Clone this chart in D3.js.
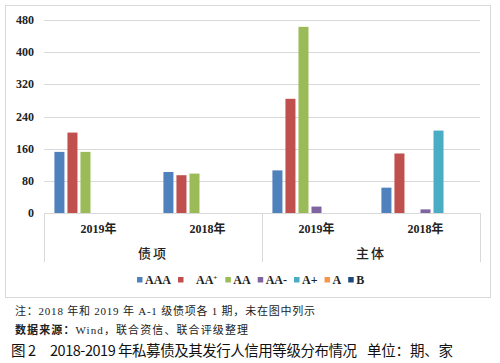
<!DOCTYPE html>
<html><head><meta charset="utf-8">
<script src="https://cdn.jsdelivr.net/npm/d3@7"></script>
<style>body{margin:0;background:#fff}svg{display:block}</style>
</head><body>
<svg id="c" width="500" height="363"></svg>
<script>
const groups = ["债项", "主体"];
const categories = ["2019年", "2018年", "2019年", "2018年"];
const categoryGroup = ["债项", "债项", "主体", "主体"];
const series = ["AAA", "AA+", "AA", "AA-", "A+", "A", "B"];
const colors = ["#4F81BD", "#C0504D", "#9BBB59", "#8064A2", "#4BACC6", "#F79646", "#1F497D"];
const valAAA = [152, 102, 106, 63];
const valAAp = [200, 94, 284, 148];
const valAA = [152, 98, 463, 0];
const valAAm = [0, 0, 16, 9];
const valAp = [0, 0, 0, 205];
const valA = [0, 0, 0, 0];
const valB = [0, 0, 0, 0];
const yTicks = [0, 80, 160, 240, 320, 400, 480];
const noteText = "注：2018 年和 2019 年 A-1 级债项各 1 期，未在图中列示";
const sourceLabel = "数据来源：";
const sourceText = "Wind，联合资信、联合评级整理";
const titleParts = ["图", "2", "2018-2019 年私募债及其发行人信用等级分布情况", "单位：期、家"];

const allVals = [valAAA, valAAp, valAA, valAAm, valAp, valA, valB];
const svg = d3.select("#c");
const serif = "'Liberation Serif','Times New Roman','Noto Sans CJK SC',serif";
const cjkSans = "'Noto Sans CJK SC','Noto Sans',sans-serif";

const L = 44, R = 480, T = 20, B = 213;
// outer frame
svg.append("rect").attr("x", 5.5).attr("y", 5.5).attr("width", 485).attr("height", 292)
  .attr("fill", "#fff").attr("stroke", "#d9d9d9");

const y = d3.scaleLinear().domain([0, 480]).range([B, T]);
const x0 = d3.scaleBand().domain(d3.range(categories.length)).range([L, R]);
const x1 = d3.scaleBand().domain(series).range([0, x0.bandwidth()]).paddingInner(3/13).paddingOuter(0.8);

// gridlines
svg.append("g").selectAll("line").data(yTicks.filter(d => d > 0)).join("line")
  .attr("x1", L).attr("x2", R).attr("y1", d => Math.round(y(d)) + 0.5).attr("y2", d => Math.round(y(d)) + 0.5)
  .attr("stroke", "#d9d9d9").attr("stroke-width", 1);

// y tick labels
svg.append("g").selectAll("text").data(yTicks).join("text")
  .attr("x", 34).attr("y", d => y(d) + 4).attr("text-anchor", "end")
  .attr("font-family", serif).attr("font-weight", "bold").attr("font-size", 12).attr("fill", "#222")
  .text(d => d);

// bars
const flat = [];
categories.forEach((c, i) => series.forEach((s, j) => flat.push({ i, s, j, v: allVals[j][i] })));
svg.append("g").selectAll("rect").data(flat.filter(d => d.v > 0)).join("rect")
  .attr("x", d => x0(d.i) + x1(d.s)).attr("width", x1.bandwidth())
  .attr("y", d => y(d.v)).attr("height", d => y(0) - y(d.v))
  .attr("fill", d => colors[d.j]);

// category axis
const ax = svg.append("g").attr("stroke", "#d9d9d9").attr("stroke-width", 1);
ax.append("line").attr("x1", L).attr("x2", R).attr("y1", B + 0.5).attr("y2", B + 0.5);
const seps = [0, 2, 4].map(k => k === 4 ? R : x0(k));
ax.selectAll("line.sep").data(seps).join("line").attr("class", "sep")
  .attr("x1", d => Math.round(d) + 0.5).attr("x2", d => Math.round(d) + 0.5).attr("y1", B).attr("y2", 262);

svg.append("g").selectAll("text").data(categories).join("text")
  .attr("x", (d, i) => x0(i) + x0.bandwidth() / 2).attr("y", 233).attr("text-anchor", "middle")
  .attr("font-family", serif).attr("font-weight", "bold").attr("font-size", 12).attr("fill", "#222")
  .text(d => d);

svg.append("g").selectAll("text").data(groups).join("text")
  .attr("x", g => {
    const idx = categoryGroup.map((c, i) => c === g ? i : -1).filter(i => i >= 0);
    return (x0(idx[0]) + x0(idx[idx.length - 1]) + x0.bandwidth()) / 2;
  })
  .attr("y", 258).attr("text-anchor", "middle")
  .attr("font-family", serif).attr("font-size", 13).attr("font-weight", 500).attr("letter-spacing", 2).attr("fill", "#222")
  .text(d => d);

// legend
const lg = svg.append("g");
const legendStarts = [];
let cx = 0;
const lfs = 12;
const tmp = svg.append("text").attr("font-family", serif).attr("font-weight", "bold").attr("font-size", lfs);
const widths = series.map(s => { tmp.text(s === "AA+" ? "AA" : s); return tmp.node().getComputedTextLength() + (s === "AA+" ? 5 : 0); });
tmp.remove();
series.forEach((s, j) => {
  legendStarts.push(cx);
  const extra = s === "AA+" ? 10 : 0;
  cx += 6 + 3 + extra + widths[j] + (j < series.length - 1 ? 6 : 0);
});
const lx0 = 137;
series.forEach((s, j) => {
  const sx = lx0 + legendStarts[j];
  const extra = s === "AA+" ? 10 : 0;
  lg.append("rect").attr("x", sx).attr("y", 277).attr("width", 5.5).attr("height", 5.5).attr("fill", colors[j]);
  const t = lg.append("text").attr("x", sx + 8 + extra).attr("y", 284)
    .attr("font-family", serif).attr("font-weight", "bold").attr("font-size", lfs).attr("fill", "#222");
  if (s === "AA+") {
    t.text("AA");
    t.append("tspan").attr("dy", -4).attr("font-size", 7).text("+");
  } else {
    t.text(s);
  }
});

// notes
svg.append("text").attr("x", 15).attr("y", 315).attr("font-family", serif).attr("font-size", 11)
  .attr("fill", "#222").attr("textLength", 300).attr("lengthAdjust", "spacing").text(noteText);
const src = svg.append("text").attr("x", 15).attr("y", 334).attr("font-family", serif).attr("font-size", 11)
  .attr("fill", "#222").attr("textLength", 233).attr("lengthAdjust", "spacing");
src.append("tspan").attr("font-weight", "bold").text(sourceLabel);
src.append("tspan").text(sourceText);

// title in segments
const tStarts = [11, 28, 50, 367];
const tLens = [null, null, 307, 86];
titleParts.forEach((p, k) => {
  const t = svg.append("text").attr("x", tStarts[k]).attr("y", 356).attr("font-family", cjkSans).attr("font-size", 14.5)
    .attr("fill", "#111").text(p);
  if (tLens[k]) t.attr("textLength", tLens[k]).attr("lengthAdjust", "spacing");
});
</script>
</body></html>
